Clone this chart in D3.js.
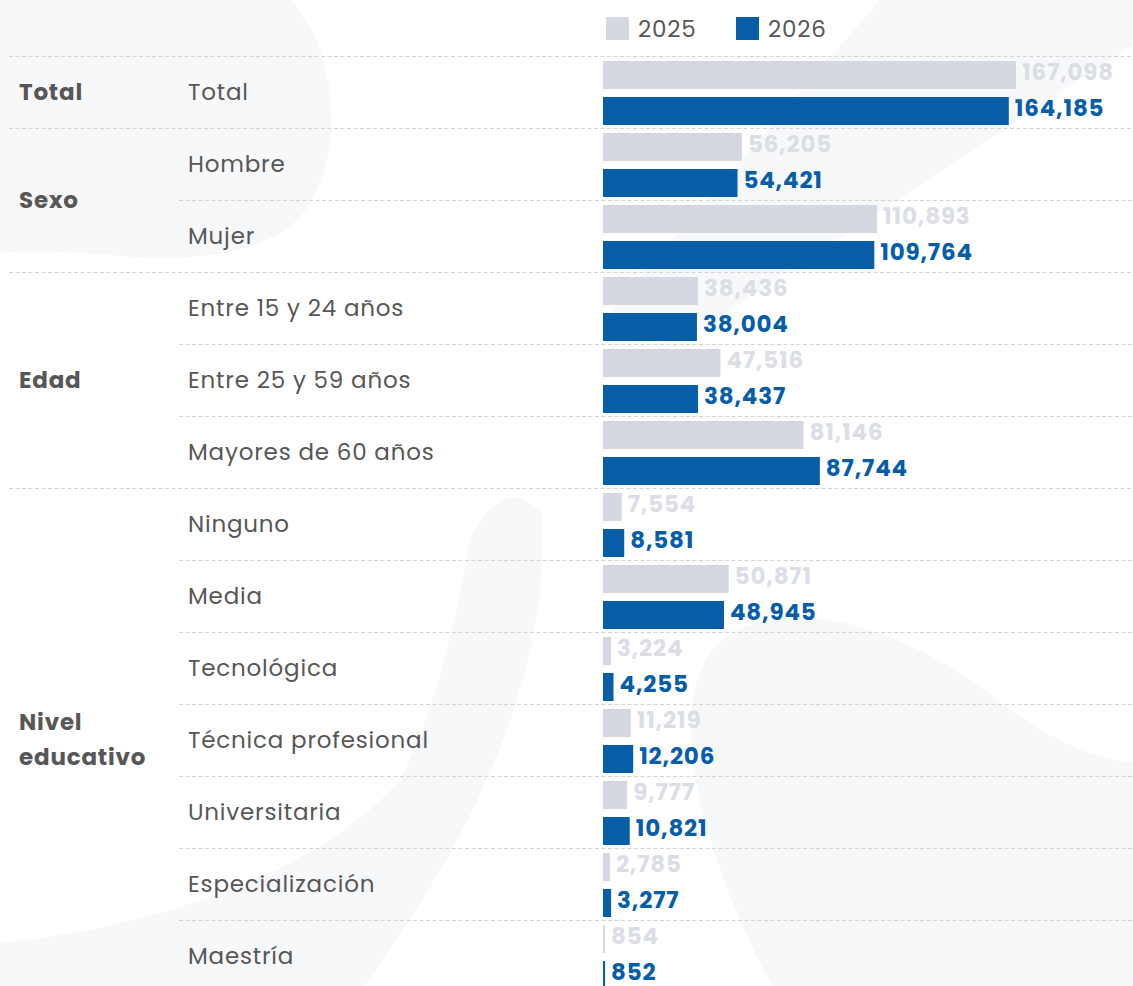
<!DOCTYPE html>
<html>
<head>
<meta charset="utf-8">
<script src="https://cdn.jsdelivr.net/npm/d3@7"></script>
<style>
  body { margin: 0; background: #fff; }
  text { font-family: Poppins, Inter, sans-serif; letter-spacing: 0.8px; }
</style>
</head>
<body>
<div id="chart"></div>
<script>
// data
var groups = ["Total", "Sexo", "Edad", "Nivel educativo"];
var categories = ["Total", "Hombre", "Mujer", "Entre 15 y 24 años", "Entre 25 y 59 años",
    "Mayores de 60 años", "Ninguno", "Media", "Tecnológica", "Técnica profesional",
    "Universitaria", "Especialización", "Maestría"];
var categoryGroup = ["Total", "Sexo", "Sexo", "Edad", "Edad", "Edad", "Nivel educativo",
    "Nivel educativo", "Nivel educativo", "Nivel educativo", "Nivel educativo",
    "Nivel educativo", "Nivel educativo"];
var series = ["2025", "2026"];
var values2025 = [167098, 56205, 110893, 38436, 47516, 81146, 7554, 50871, 3224, 11219, 9777, 2785, 854];
var values2026 = [164185, 54421, 109764, 38004, 38437, 87744, 8581, 48945, 4255, 12206, 10821, 3277, 852];

var width = 1133,
    height = 986,
    rowH = 72,
    top0 = 56.5;

var colors = { "2025": "#d5d8e1", "2026": "#075da8" };
var labelColors = { "2025": "#dcdee6", "2026": "#075da8" };
var textColor = "#575757";
var fmt = d3.format(",");

var svg = d3.select("#chart")
    .append("svg")
    .attr("width", width)
    .attr("height", height);

// faint watermark shapes in the background
var bg = svg.append("g").attr("fill", "#f7f8fa");
bg.append("path").attr("d", "M0,0 L290,0 C335,45 345,140 312,200 C282,255 200,262 120,256 C60,251 20,250 0,253 Z");
bg.append("path").attr("d", "M880,0 L1133,0 L1133,45 L700,330 Q640,362 612,310 Z");
bg.append("path").attr("d", "M470,540 Q505,470 543,515 C548,650 500,800 364,986 L0,986 L0,943 C190,922 330,860 400,780 C440,700 455,620 470,540 Z");
bg.append("path").attr("d", "M772,986 C700,850 660,700 720,642 C780,592 900,622 1000,702 C1060,747 1100,760 1133,762 L1133,986 Z");

var y = d3.scaleBand()
    .domain(categories)
    .range([top0, top0 + categories.length * rowH]);

var ySub = d3.scaleBand()
    .domain(series)
    .range([4.5, rowH - 3.5])
    .paddingInner(8 / 36);

var x = d3.scaleLinear()
    .domain([0, d3.max(values2025.concat(values2026))])
    .range([603, 1016]);

// dashed separators
var lines = [top0];
categories.forEach(function(c, i) {
    lines.push(y(c) + rowH);
});
svg.append("g")
    .selectAll("line")
    .data(lines)
    .enter().append("line")
    .attr("x1", function(d, i) {
        var isGroupEdge = i == 0 || i == categories.length || categoryGroup[i] != categoryGroup[i - 1];
        return isGroupEdge ? 9 : 179;
    })
    .attr("x2", width)
    .attr("y1", function(d) { return d; })
    .attr("y2", function(d) { return d; })
    .attr("stroke", "#d3d4d7")
    .attr("stroke-width", 1)
    .attr("stroke-dasharray", "4,2.5");

// legend
var legend = svg.append("g")
    .selectAll("g")
    .data(series)
    .enter().append("g")
    .attr("transform", function(d, i) { return "translate(" + (606 + i * 130) + ",17)"; });
legend.append("rect")
    .attr("width", 23)
    .attr("height", 23)
    .attr("fill", function(d) { return colors[d]; });
legend.append("text")
    .attr("x", 32)
    .attr("y", 12)
    .attr("dominant-baseline", "central")
    .attr("font-size", 23)
    .attr("fill", textColor)
    .text(function(d) { return d; });

// group labels, centred on their rows
groups.forEach(function(g) {
    var rows = categories.filter(function(c, i) { return categoryGroup[i] == g; });
    var mid = (y(rows[0]) + y(rows[rows.length - 1]) + rowH) / 2 - 1;
    var words = g == "Nivel educativo" ? ["Nivel", "educativo"] : [g];
    svg.append("g")
        .selectAll("text")
        .data(words)
        .enter().append("text")
        .attr("x", 19)
        .attr("y", function(d, i) { return mid + (i - (words.length - 1) / 2) * 35; })
        .attr("dominant-baseline", "central")
        .attr("font-size", 23)
        .attr("font-weight", "bold")
        .attr("fill", textColor)
        .text(function(d) { return d; });
});

// category labels
svg.append("g")
    .selectAll("text")
    .data(categories)
    .enter().append("text")
    .attr("x", 188)
    .attr("y", function(d) { return y(d) + rowH / 2 - 1; })
    .attr("dominant-baseline", "central")
    .attr("font-size", 23)
    .attr("fill", textColor)
    .text(function(d) { return d; });

// bars
var bars = [];
categories.forEach(function(c, i) {
    bars.push({ cat: c, s: "2025", v: values2025[i] });
    bars.push({ cat: c, s: "2026", v: values2026[i] });
});

svg.append("g")
    .selectAll("rect")
    .data(bars)
    .enter().append("rect")
    .attr("x", x(0))
    .attr("y", function(d) { return y(d.cat) + ySub(d.s); })
    .attr("width", function(d) { return Math.max(1.5, x(d.v) - x(0)); })
    .attr("height", ySub.bandwidth())
    .attr("fill", function(d) { return colors[d.s]; });

svg.append("g")
    .selectAll("text")
    .data(bars)
    .enter().append("text")
    .attr("x", function(d) { return Math.max(x(d.v), x(0) + 2) + 6; })
    .attr("y", function(d) { return y(d.cat) + ySub(d.s) + ySub.bandwidth() / 2 - 3; })
    .attr("dominant-baseline", "central")
    .attr("font-size", 23)
    .attr("font-weight", "bold")
    .attr("fill", function(d) { return labelColors[d.s]; })
    .text(function(d) { return fmt(d.v); });
</script>
</body>
</html>
